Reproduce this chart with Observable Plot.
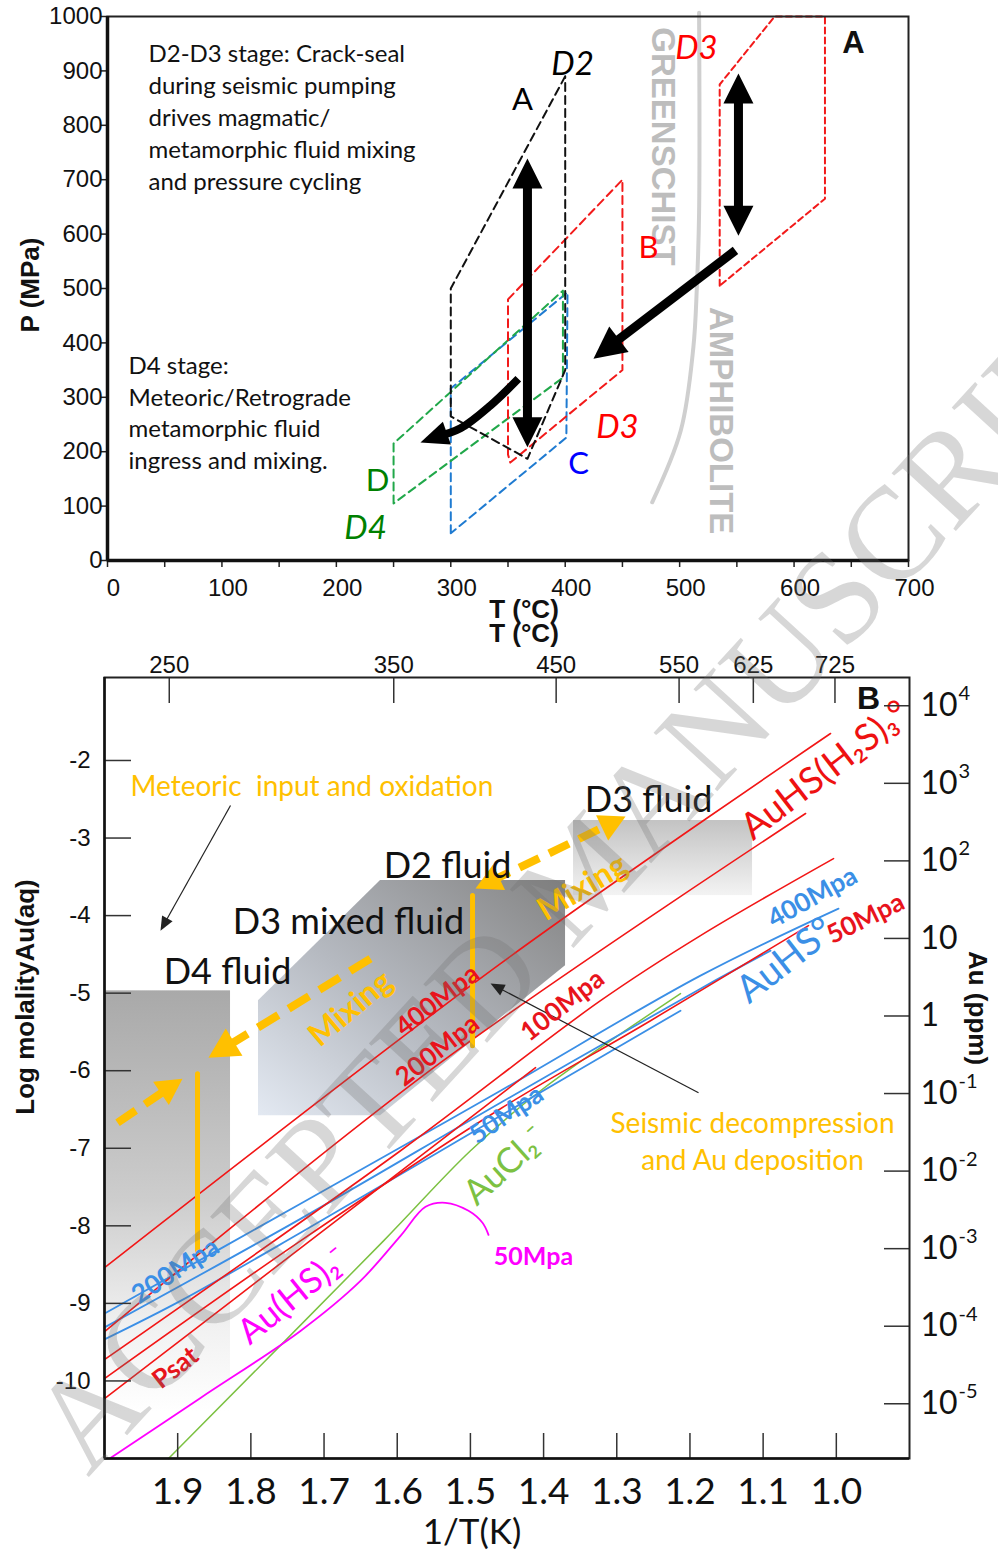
<!DOCTYPE html>
<html>
<head>
<meta charset="utf-8">
<title>P–T evolution and Au solubility</title>
<script src="https://cdn.jsdelivr.net/npm/d3@7"></script>
<script src="https://cdn.jsdelivr.net/npm/@observablehq/plot@0.6"></script>
<style>
  html, body { margin: 0; padding: 0; background: #fff; }
  #wrap { position: relative; width: 998px; height: 1553px; overflow: hidden; background: #fff; }
  .panel { position: absolute; left: 0; }
  .ttl { position: absolute; white-space: nowrap; color: #111; transform: translate(-50%, -50%); line-height: 1; }
  .bold { font-family: "Liberation Sans", Arial, sans-serif; font-weight: bold; font-size: 26px; }
  #wm { position: absolute; left: 0; top: 0; pointer-events: none; }
</style>
</head>
<body>
<div id="wrap">
  <div id="panelA" class="panel" style="top:0"></div>
  <div id="panelB" class="panel" style="top:630px"></div>
  <div class="ttl bold" style="left:30px; top:285px; transform: translate(-50%,-50%) rotate(-90deg);">P (MPa)</div>
  <div class="ttl bold" style="left:524px; top:609px;">T (°C)</div>
  <div class="ttl bold" style="left:524px; top:633px;">T (°C)</div>
  <div class="ttl bold" style="left:25px; top:997px; transform: translate(-50%,-50%) rotate(-90deg);">Log molalityAu(aq)</div>
  <div class="ttl bold" style="left:978px; top:1008px; transform: translate(-50%,-50%) rotate(90deg);">Au (ppm)</div>
  <div class="ttl" style="left:472px; top:1530px; font-family: Lato, sans-serif; font-size: 35px;">1/T(K)</div>
  <svg id="wm" width="998" height="1553">
    <text transform="translate(88,1478) rotate(-47.5)" font-family="'Liberation Serif', 'DejaVu Serif', serif" font-size="132" fill="rgb(110,110,110)" fill-opacity="0.28">ACCEPTED MANUSCRIPT</text>
  </svg>
</div>
<script>
// ======================= DATA: panel A (T °C, P MPa) =======================
const aTempTicks = d3.range(0, 701, 50);
const aPresTicks = d3.range(0, 1001, 100);

const polyD2 = [[400,890],[300,500],[300,265],[367,187],[400,350],[400,890]];
const polyB  = [[350,480],[450,700],[450,350],[352,180],[350,195],[350,480]];
const polyD3 = [[535,505],[535,875],[583,1000],[627,1000],[627,665],[535,505]];
const polyD  = [[250,105],[250,215],[398,496],[398,336],[250,105]];
const polyC  = [[300,50],[300,316],[402,493],[401,226],[300,50]];
const faciesBoundary = [[517,1007],[517,640],[515,500],[512,392],[501,239],[476,107]];

const arrowCycleB = [[367,208],[367,739]];
const arrowCycleD3 = [[551.4,597],[551.4,895]];
const arrowRetro = [[548.8,570],[424.7,371]];
const arrowD4 = [[359,334],[334.7,285],[308.5,243],[273.5,217]];

const stageNoteD2D3 = ["D2-D3 stage: Crack-seal\nduring seismic pumping\ndrives magmatic/\nmetamorphic fluid mixing\nand pressure cycling"];
const stageNoteD4 = ["D4 stage:\nMeteoric/Retrograde\nmetamorphic fluid\ningress and mixing."];
const stageNoteAnchors = {d2d3: [35.8, 958], d4: [18.4, 384]};

const italicLabelsA = [
  {text: "D2", T: 406.4, P: 911.8, k: "black"},
  {text: "D3", T: 514.7, P: 941.2, k: "red"},
  {text: "D3", T: 445.7, P: 244.5, k: "red"},
  {text: "D4", T: 225.5, P: 58.8, k: "green"}
];
const uprightLabelsA = [
  {text: "A", T: 362.7, P: 845.6, k: "black"},
  {text: "B", T: 472.8, P: 573.5, k: "red"},
  {text: "C", T: 411.6, P: 176.5, k: "blue"},
  {text: "D", T: 236.0, P: 145.2, k: "green"}
];
const faciesLabels = [
  {text: "GREENSCHIST", T: 485, P: 761},
  {text: "AMPHIBOLITE", T: 535.7, P: 257}
];
const panelLetterA = [{text: "A", T: 651.9, P: 950.4}];

// ======================= DATA: panel B (1000/T K, log m Au) =======================
const invTTicks = [1.9, 1.8, 1.7, 1.6, 1.5, 1.4, 1.3, 1.2, 1.1, 1.0];
const logMTicks = [-2, -3, -4, -5, -6, -7, -8, -9, -10];
const tempCTicks = [250, 350, 450, 550, 625, 725];
const ppmExponents = [4, 3, 2, 1, 0, -1, -2, -3, -4, -5];
const auMolarMassMgPerMol = 196967;

const redP400 = [[1.9986,-8.529],[1.4589,-4.619],[1.0079,-1.652]];
const redP200 = [[1.9986,-9.355],[1.5409,-5.897],[1.042,-2.684]];
const redP100 = [[1.9986,-9.716],[1.5955,-7.032],[1.3222,-5.097],[1.1856,-4.258],[1.0038,-3.265]];
const redP50  = [[1.9986,-9.961],[1.7322,-8.194],[1.4589,-6.490],[1.2539,-5.355],[1.038,-4.129]];
const redPsat = [[1.9986,-10.219],[1.705,-8.09],[1.411,-5.961]];
const blueP400 = [[1.9986,-9.123],[1.7322,-7.716],[1.4589,-6.258],[1.1856,-4.774],[0.997,-3.910]];
const blueP200 = [[1.9986,-9.303],[1.7322,-7.910],[1.4589,-6.413],[1.1856,-4.942],[1.0899,-4.452]];
const blueP50  = [[1.9986,-9.458],[1.8961,-8.968],[1.7322,-8.090],[1.4589,-6.581],[1.2129,-5.226]];
const magentaP50 = [[1.9918,-10.994],[1.8688,-10.219],[1.7322,-9.355],[1.6502,-8.710],[1.5955,-8.129],[1.5613,-7.755],[1.534,-7.703],[1.5026,-7.806],[1.4835,-7.961],[1.4753,-8.116]];
const greenAuCl2 = [[1.9125,-11.0],[1.6187,-8.194],[1.4999,-7.032],[1.4042,-6.258],[1.2129,-5.006]];

const d4Region = [{u1: 2.0, u2: 1.8278, v1: -11, v2: -4.97}];
const d3MixedRegion = [{u: 1.7896, lo: -6.58, hi: -5.097}, {u: 1.6228, lo: -6.58, hi: -3.548}, {u: 1.37, lo: -4.645, hi: -3.548}];
const d3Region = [{u1: 1.3591, u2: 1.1145, v1: -3.742, v2: -2.774}];

const d4Decompression = [[1.8729,-6.039],[1.8729,-8.323]];
const d2Decompression = [[1.4971,-3.742],[1.4971,-5.677]];
const mixingToD4 = [[1.9822,-6.671],[1.8934,-6.103]];
const mixingD3toD4 = [[1.6365,-4.555],[1.8579,-5.832]];
const mixingD2D3 = [[1.493,-3.652],[1.288,-2.723]];
const meteoricPointer = [[1.8278,-2.581],[1.9235,-4.194]];
const seismicPointer = [[1.1883,-6.284],[1.4725,-4.877]];

const fluidLabels = [
  {text: "D2 fluid", u: 1.5313, v: -3.368},
  {text: "D3 mixed fluid", u: 1.6666, v: -4.090},
  {text: "D4 fluid", u: 1.8319, v: -4.735},
  {text: "D3 fluid", u: 1.2566, v: -2.516}
];
const meteoricNote = [{text: "Meteoric  input and oxidation", u: 1.9645, v: -2.348}];
const seismicNote = [{text: "Seismic decompression\nand Au deposition", u: 1.1145, v: -6.884}];
const mixingLabels = [
  {text: "Mixing", u: 1.6638, v: -5.2, angle: -40},
  {text: "Mixing", u: 1.3468, v: -3.639, angle: -31}
];
const redPressureLabels = [
  {text: "400Mpa", u: 1.545, v: -5.097, angle: -38},
  {text: "200Mpa", u: 1.545, v: -5.742, angle: -38},
  {text: "100Mpa", u: 1.3741, v: -5.161, angle: -38},
  {text: "Psat", u: 1.903, v: -9.832, angle: -38},
  {text: "50Mpa", u: 0.96, v: -4.039, angle: -26}
];
const bluePressureLabels = [
  {text: "400Mpa", u: 1.0325, v: -3.768, angle: -29},
  {text: "50Mpa", u: 1.4507, v: -6.568, angle: -34},
  {text: "200Mpa", u: 1.903, v: -8.581, angle: -33}
];
const speciesAuHSH2S = [{text: "AuHS(H₂S)₃°", u: 1.0148, v: -2.129, angle: -37.6}];
const speciesAuHS = [{text: "AuHS°", u: 1.0694, v: -4.581, angle: -38}];
const speciesAuHS2 = [{text: "Au(HS)₂⁻", u: 1.7417, v: -8.903, angle: -39}];
const speciesAuCl2 = [{text: "AuCl₂⁻", u: 1.452, v: -7.226, angle: -42}];
const magentaPressureLabel = [{text: "50Mpa", u: 1.4138, v: -8.4}];
const panelLetterB = [{text: "B", u: 0.956, v: -1.2}];

// ======================= helpers =======================
const LATO = "Lato, 'Noto Sans', 'DejaVu Sans', sans-serif";
const ARIAL = "'Liberation Sans', Arial, sans-serif";
const NARROW = "'Liberation Sans Narrow', 'Liberation Sans', Arial, sans-serif";
const RED = "#f21616", BLUE = "#3b8fe6", GREEN = "#7cc142", MAGENTA = "#ff00ff", ORANGE = "#ffc000";
const colorsA = {domain: ["black", "red", "green", "blue"], range: ["#111111", "#f21a1a", "#21a84a", "#1f7bd1"]};

const headShape = {
  draw(ctx, l, r) { ctx.moveTo(0, -l); ctx.lineTo(r, 0); ctx.lineTo(-r, 0); ctx.closePath(); }
};

function buildArrow(pts, heads, kx, ky, headLen) {
  const p = pts.map(d => d.slice());
  const out = [];
  const n = pts.length;
  const dir = (f, t) => {
    const dx = (t[0] - f[0]) * kx, dy = -(t[1] - f[1]) * ky;
    return {a: Math.atan2(dx, -dy) * 180 / Math.PI, len: Math.hypot(dx, dy)};
  };
  const trim = (ti, fi) => {
    const t = pts[ti], f = pts[fi];
    const {a, len} = dir(f, t);
    out.push({x: t[0], y: t[1], a});
    const s = Math.min(0.6 * headLen / len, 0.9);
    p[ti] = [t[0] - (t[0] - f[0]) * s, t[1] - (t[1] - f[1]) * s];
  };
  if (heads === "end" || heads === "both") trim(n - 1, n - 2);
  if (heads === "both") trim(0, 1);
  return {shaft: p, heads: out};
}

function arrowMarks(pts, heads, o) {
  const {shaft, heads: hs} = buildArrow(pts, heads, o.kx, o.ky, o.headLen);
  return [
    Plot.line(shaft, {x: d => d[0], y: d => d[1], stroke: o.color, strokeWidth: o.width,
      strokeDasharray: o.dash, strokeLinecap: "butt", curve: o.curve || "linear"}),
    Plot.vector(hs, {x: "x", y: "y", rotate: "a", length: o.headLen, r: o.headR, anchor: "end",
      shape: headShape, fill: o.color, stroke: "none"})
  ];
}

function gradientDefs() {
  const g = document.createElementNS("http://www.w3.org/2000/svg", "defs");
  g.innerHTML = `
    <linearGradient id="gD4" x1="0" y1="0" x2="0" y2="1">
      <stop offset="0" stop-color="#a9a9a9"/><stop offset="0.45" stop-color="#cdcdcd"/>
      <stop offset="0.72" stop-color="#f1f1f1"/><stop offset="0.9" stop-color="#ffffff"/>
    </linearGradient>
    <linearGradient id="gHex" x1="0" y1="1" x2="1" y2="0">
      <stop offset="0" stop-color="#e3e9f2"/><stop offset="0.45" stop-color="#b5b9c0"/>
      <stop offset="1" stop-color="#858585"/>
    </linearGradient>
    <linearGradient id="gD3" x1="0" y1="0" x2="0" y2="1">
      <stop offset="0" stop-color="#c3c3c3"/><stop offset="1" stop-color="#f3f3f3"/>
    </linearGradient>`;
  return g;
}

// ======================= PANEL A =======================
const W = 998;
const A = {h: 640, ml: 107, mr: 90, mt: 16, mb: 80};
A.iw = W - A.ml - A.mr; A.ih = A.h - A.mt - A.mb;
const kxA = A.iw / 700, kyA = A.ih / 1000;
const xy = {x: d => d[0], y: d => d[1]};

const plotA = Plot.plot({
  width: W, height: A.h,
  marginLeft: A.ml, marginRight: A.mr, marginTop: A.mt, marginBottom: A.mb,
  x: {domain: [0, 700], axis: null},
  y: {domain: [0, 1000], axis: null},
  color: colorsA,
  style: {background: "none", overflow: "visible"},
  marks: [
    Plot.line(faciesBoundary, {...xy, stroke: "#cfcfcf", strokeWidth: 4, curve: "catmull-rom"}),
    Plot.text(faciesLabels, {x: "T", y: "P", text: "text", rotate: 90, fill: "#bdbdbd",
      fontSize: 33, fontWeight: "bold", fontFamily: NARROW}),
    Plot.line(polyC, {...xy, stroke: "#1f7bd1", strokeWidth: 2, strokeDasharray: "8,5"}),
    Plot.line(polyD, {...xy, stroke: "#21a84a", strokeWidth: 2, strokeDasharray: "8,5"}),
    Plot.line(polyB, {...xy, stroke: "#f21a1a", strokeWidth: 2, strokeDasharray: "8,5"}),
    Plot.line(polyD2, {...xy, stroke: "#111", strokeWidth: 2, strokeDasharray: "8,5"}),
    Plot.line(polyD3, {...xy, stroke: "#f21a1a", strokeWidth: 2, strokeDasharray: "6,4"}),
    ...arrowMarks(arrowCycleB, "both", {kx: kxA, ky: kyA, headLen: 30, headR: 15, color: "#000", width: 9}),
    ...arrowMarks(arrowCycleD3, "both", {kx: kxA, ky: kyA, headLen: 30, headR: 15, color: "#000", width: 9}),
    ...arrowMarks(arrowRetro, "end", {kx: kxA, ky: kyA, headLen: 32, headR: 16, color: "#000", width: 9}),
    ...arrowMarks(arrowD4, "end", {kx: kxA, ky: kyA, headLen: 28, headR: 12, color: "#000", width: 8, curve: "catmull-rom"}),
    Plot.text(stageNoteD2D3, {x: () => stageNoteAnchors.d2d3[0], y: () => stageNoteAnchors.d2d3[1], text: d => d,
      textAnchor: "start", lineAnchor: "top", lineHeight: 1.33, fontSize: 24, fontFamily: LATO, fill: "#111"}),
    Plot.text(stageNoteD4, {x: () => stageNoteAnchors.d4[0], y: () => stageNoteAnchors.d4[1], text: d => d,
      textAnchor: "start", lineAnchor: "top", lineHeight: 1.32, fontSize: 24, fontFamily: LATO, fill: "#111"}),
    Plot.text(italicLabelsA, {x: "T", y: "P", text: "text", fill: "k", fontSize: 33, fontStyle: "italic", fontFamily: LATO}),
    Plot.text(uprightLabelsA, {x: "T", y: "P", text: "text", fill: "k", fontSize: 31, fontFamily: LATO}),
    Plot.text(panelLetterA, {x: "T", y: "P", text: "text", fontSize: 31, fontWeight: "bold", fontFamily: ARIAL, fill: "#111"}),
    Plot.tickX(aTempTicks, {x: d => d, insetTop: A.ih, insetBottom: -7, stroke: "#222", strokeWidth: 1.5}),
    Plot.text(aTempTicks.filter(d => d % 100 === 0), {x: d => d, text: d => String(d), frameAnchor: "bottom",
      lineAnchor: "middle", dy: 28, dx: 6, fontSize: 24, fontFamily: ARIAL, fill: "#111"}),
    Plot.tickY(aPresTicks, {y: d => d, insetLeft: -7, insetRight: A.iw, stroke: "#222", strokeWidth: 1.5}),
    Plot.text(aPresTicks, {y: d => d, text: d => String(d), frameAnchor: "left", dx: -5, textAnchor: "end",
      fontSize: 24, fontFamily: ARIAL, fill: "#111"}),
    Plot.frame({stroke: "#222", strokeWidth: 2}),
    Plot.ruleX([0], {stroke: "#111", strokeWidth: 3.5}),
    Plot.ruleY([0], {stroke: "#111", strokeWidth: 3.5})
  ]
});
document.getElementById("panelA").appendChild(plotA);

// ======================= PANEL B =======================
const B = {h: 923, ml: 104, mr: 89, mt: 47, mb: 95};
B.iw = W - B.ml - B.mr; B.ih = B.h - B.mt - B.mb;
const uDomain = [2.0, 0.9], vDomain = [-11, -0.93];
const kxB = B.iw / (uDomain[1] - uDomain[0]), kyB = B.ih / (vDomain[1] - vDomain[0]);
const ppmToLogM = e => e - Math.log10(auMolarMassMgPerMol);
const uv = {x: "u", y: "v", text: "text"};

const plotB = Plot.plot({
  width: W, height: B.h,
  marginLeft: B.ml, marginRight: B.mr, marginTop: B.mt, marginBottom: B.mb,
  x: {domain: uDomain, axis: null},
  y: {domain: vDomain, axis: null},
  style: {background: "none", overflow: "visible"},
  marks: [
    gradientDefs,
    Plot.rect(d4Region, {x1: "u1", x2: "u2", y1: "v1", y2: "v2", fill: "url(#gD4)"}),
    Plot.areaY(d3MixedRegion, {x: "u", y1: "lo", y2: "hi", fill: "url(#gHex)"}),
    Plot.rect(d3Region, {x1: "u1", x2: "u2", y1: "v1", y2: "v2", fill: "url(#gD3)"}),
    Plot.line(greenAuCl2, {...xy, stroke: GREEN, strokeWidth: 1.5, curve: "catmull-rom"}),
    Plot.line(magentaP50, {...xy, stroke: MAGENTA, strokeWidth: 1.8, curve: "catmull-rom"}),
    Plot.line(blueP400, {...xy, stroke: BLUE, strokeWidth: 1.8, curve: "catmull-rom"}),
    Plot.line(blueP200, {...xy, stroke: BLUE, strokeWidth: 1.8, curve: "catmull-rom"}),
    Plot.line(blueP50, {...xy, stroke: BLUE, strokeWidth: 1.8, curve: "catmull-rom"}),
    Plot.line(redP400, {...xy, stroke: RED, strokeWidth: 1.6, curve: "catmull-rom"}),
    Plot.line(redP200, {...xy, stroke: RED, strokeWidth: 1.6, curve: "catmull-rom"}),
    Plot.line(redP100, {...xy, stroke: RED, strokeWidth: 1.6, curve: "catmull-rom"}),
    Plot.line(redP50, {...xy, stroke: RED, strokeWidth: 1.6, curve: "catmull-rom"}),
    Plot.line(redPsat, {...xy, stroke: RED, strokeWidth: 1.6, curve: "catmull-rom"}),
    Plot.line(d4Decompression, {...xy, stroke: ORANGE, strokeWidth: 5}),
    Plot.line(d2Decompression, {...xy, stroke: ORANGE, strokeWidth: 5}),
    ...arrowMarks(mixingToD4, "end", {kx: kxB, ky: kyB, headLen: 26, headR: 14, color: ORANGE, width: 8, dash: "22,11"}),
    ...arrowMarks(mixingD3toD4, "end", {kx: kxB, ky: kyB, headLen: 30, headR: 16, color: ORANGE, width: 8, dash: "24,12"}),
    ...arrowMarks(mixingD2D3, "both", {kx: kxB, ky: kyB, headLen: 26, headR: 14, color: ORANGE, width: 8, dash: "22,11"}),
    ...arrowMarks(meteoricPointer, "end", {kx: kxB, ky: kyB, headLen: 14, headR: 6, color: "#222", width: 1.2}),
    ...arrowMarks(seismicPointer, "end", {kx: kxB, ky: kyB, headLen: 14, headR: 6, color: "#222", width: 1.2}),
    Plot.text(fluidLabels, {...uv, fontSize: 36, fontFamily: LATO, fill: "#111"}),
    Plot.text(meteoricNote, {...uv, textAnchor: "start", fontSize: 28, fontFamily: LATO, fill: ORANGE}),
    Plot.text(seismicNote, {...uv, lineHeight: 1.32, fontSize: 28, fontFamily: LATO, fill: ORANGE}),
    Plot.text(mixingLabels, {...uv, rotate: "angle", fontSize: 32, fontWeight: "bold", fontFamily: LATO, fill: ORANGE}),
    Plot.text(redPressureLabels, {...uv, rotate: "angle", fontSize: 26, fontWeight: "bold", fontFamily: LATO, fill: "#e8141c"}),
    Plot.text(bluePressureLabels, {...uv, rotate: "angle", fontSize: 26, fontWeight: "bold", fontFamily: LATO, fill: BLUE}),
    Plot.text(speciesAuHSH2S, {...uv, rotate: "angle", fontSize: 37, fontFamily: LATO, fill: "#ee1111"}),
    Plot.text(speciesAuHS, {...uv, rotate: "angle", fontSize: 38, fontFamily: LATO, fill: BLUE}),
    Plot.text(speciesAuHS2, {...uv, rotate: "angle", fontSize: 35, fontFamily: LATO, fill: MAGENTA}),
    Plot.text(speciesAuCl2, {...uv, rotate: "angle", fontSize: 35, fontFamily: LATO, fill: GREEN}),
    Plot.text(magentaPressureLabel, {...uv, fontSize: 25, fontWeight: "bold", fontFamily: LATO, fill: MAGENTA}),
    Plot.text(panelLetterB, {...uv, fontSize: 32, fontWeight: "bold", fontFamily: ARIAL, fill: "#111"}),
    Plot.tickX(invTTicks, {x: d => d, insetTop: B.ih - 25, stroke: "#333", strokeWidth: 1.5}),
    Plot.text(invTTicks, {x: d => d, text: d => d.toFixed(1), frameAnchor: "bottom", lineAnchor: "middle", dy: 34,
      fontSize: 37, fontFamily: LATO, fill: "#111"}),
    Plot.tickX(tempCTicks, {x: t => 1000 / (t + 273.15), insetBottom: B.ih - 26, stroke: "#333", strokeWidth: 1.5}),
    Plot.text(tempCTicks, {x: t => 1000 / (t + 273.15), text: t => String(t), frameAnchor: "top", lineAnchor: "middle",
      dy: -12, fontSize: 24, fontFamily: ARIAL, fill: "#111"}),
    Plot.tickY(logMTicks, {y: d => d, insetRight: B.iw - 27, stroke: "#333", strokeWidth: 1.5}),
    Plot.text(logMTicks, {y: d => d, text: d => String(d), frameAnchor: "left", dx: -14, textAnchor: "end",
      fontSize: 24, fontFamily: ARIAL, fill: "#111"}),
    Plot.tickY(ppmExponents, {y: ppmToLogM, insetLeft: B.iw - 25, stroke: "#333", strokeWidth: 1.5}),
    Plot.text(ppmExponents, {y: ppmToLogM, text: e => e === 0 ? "1" : "10", frameAnchor: "right", dx: 11,
      textAnchor: "start", fontSize: 32, fontFamily: LATO, fill: "#111"}),
    Plot.text(ppmExponents.filter(e => e !== 0 && e !== 1), {y: ppmToLogM, text: e => String(e), frameAnchor: "right",
      dx: 49, dy: -12, textAnchor: "start", fontSize: 20, fontFamily: LATO, fill: "#111"}),
    Plot.frame({stroke: "#222", strokeWidth: 2}),
    Plot.ruleX([uDomain[0]], {stroke: "#111", strokeWidth: 2.5}),
    Plot.ruleY([vDomain[0]], {stroke: "#111", strokeWidth: 2.5})
  ]
});
document.getElementById("panelB").appendChild(plotB);
</script>
</body>
</html>
